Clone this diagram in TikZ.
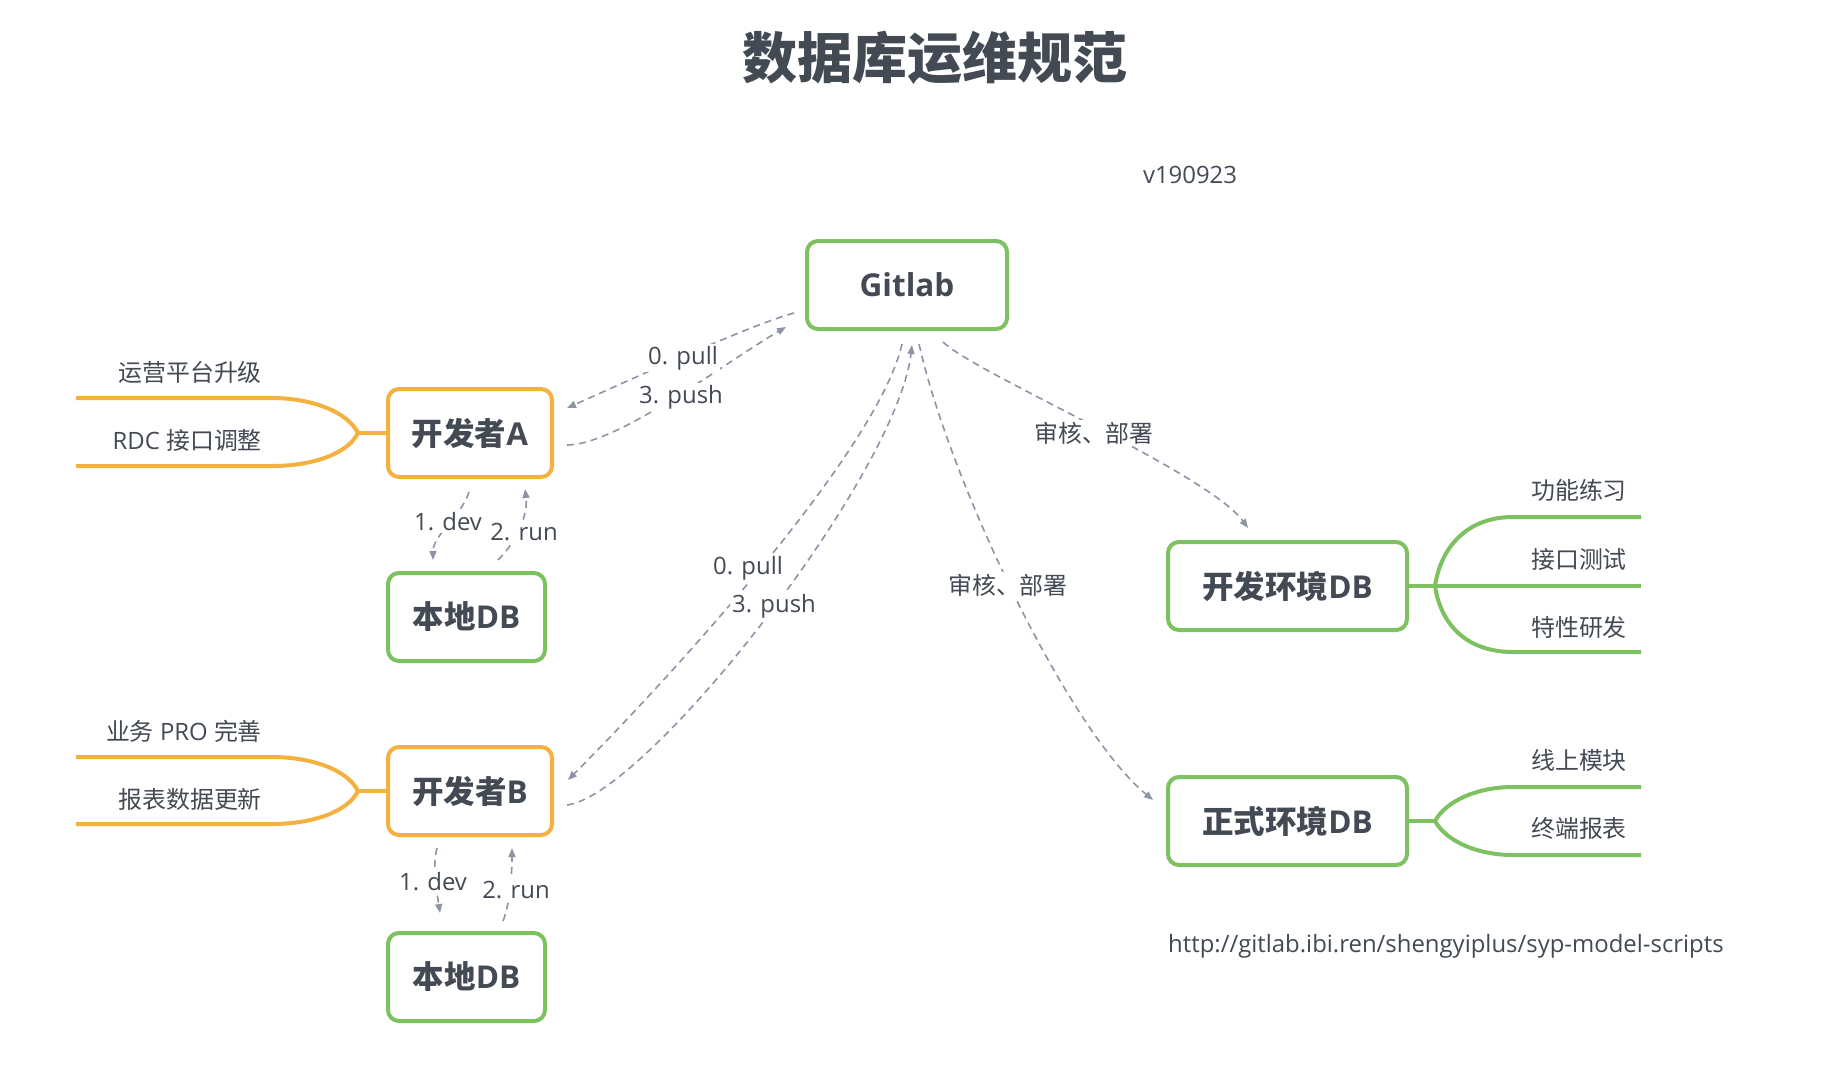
\documentclass[tikz,border=0pt]{standalone}
\usepackage{fontspec}
\setmainfont{Open Sans}
\newfontfamily\cjk{Noto Sans CJK SC}
\usetikzlibrary{arrows.meta}
\definecolor{txt}{HTML}{434A54}
\definecolor{orng}{HTML}{F5B13F}
\definecolor{grn}{HTML}{7DC160}
\definecolor{dsh}{HTML}{8E93A6}
\tikzset{
  box/.style={draw, line width=4pt, rounded corners=11pt, fill=white, minimum height=88pt, inner sep=0pt,
    font=\fontsize{31.5}{36}\selectfont\bfseries, text=txt},
  obox/.style={box, draw=orng},
  gbox/.style={box, draw=grn},
  lbl/.style={font=\fontsize{23.9}{28}\selectfont, text=txt, inner sep=1pt},
  cut/.style={lbl, fill=white, inner sep=2pt},
  conn/.style={draw=dsh, line width=1.6pt, dash pattern=on 7pt off 5pt, -{Triangle[length=9pt,width=7pt]}},
  branchO/.style={draw=orng, line width=4pt},
  branchG/.style={draw=grn, line width=4pt},
}
\begin{document}
\begin{tikzpicture}[x=1pt,y=-1pt]
\fill[white] (0,0) rectangle (1846,1090);
\useasboundingbox (0,0) rectangle (1846,1090);

% title and notes
\node[font=\cjk\bfseries\fontsize{55}{62}\selectfont, text=txt] (title) at (934.5,58) {数据库运维规范};
\node[lbl] (ver) at (1190,175) {v190923};
\node[lbl, anchor=west] (url) at (1167,946) {http://gitlab.ibi.ren/shengyiplus/syp-model-scripts};

% boxes
\node[gbox, minimum width=200pt] (gitlab) at (907,285) {Gitlab};
\node[obox, minimum width=164pt] (devA) at (470,433) {{\cjk 开发者}A};
\node[gbox, minimum width=157pt] (localA) at (466.5,617) {{\cjk 本地}DB};
\node[obox, minimum width=164pt] (devB) at (470,791) {{\cjk 开发者}B};
\node[gbox, minimum width=157pt] (localB) at (466.5,977) {{\cjk 本地}DB};
\node[gbox, minimum width=239pt] (devDB) at (1287.5,586) {{\cjk 开发环境}DB};
\node[gbox, minimum width=239pt] (prodDB) at (1287.5,821) {{\cjk 正式环境}DB};

% branch junctions
\coordinate (jA) at (358,433);
\coordinate (jB) at (358,791);
\coordinate (jD) at (1435,586);
\coordinate (jP) at (1435,821);

% left branches A
\draw[branchO] (devA.west) -- (jA);
\draw[branchO] (jA) .. controls +(-11,-22) and +(38,0) .. (272,398) -- (76,398);
\draw[branchO] (jA) .. controls +(-11,22) and +(38,0) .. (272,466) -- (76,466);
\node[lbl, anchor=east] (a1) at (263,372) {\cjk 运营平台升级};
\node[lbl, anchor=east] (a2) at (263,440) {RDC {\cjk 接口调整}};

% left branches B
\draw[branchO] (devB.west) -- (jB);
\draw[branchO] (jB) .. controls +(-11,-22) and +(38,0) .. (272,757) -- (76,757);
\draw[branchO] (jB) .. controls +(-11,22) and +(38,0) .. (272,824) -- (76,824);
\node[lbl, anchor=east] (b1) at (263,731) {{\cjk 业务} PRO {\cjk 完善}};
\node[lbl, anchor=east] (b2) at (263,799) {\cjk 报表数据更新};

% right branches dev DB
\draw[branchG] (devDB.east) -- (jD);
\draw[branchG] (jD) .. controls +(6,-40) and +(-45,0) .. (1513,517) -- (1641,517);
\draw[branchG] (jD) -- (1641,586);
\draw[branchG] (jD) .. controls +(6,40) and +(-45,0) .. (1513,652) -- (1641,652);
\node[lbl, anchor=west] (d1) at (1530,490) {\cjk 功能练习};
\node[lbl, anchor=west] (d2) at (1530,559) {\cjk 接口测试};
\node[lbl, anchor=west] (d3) at (1530,627) {\cjk 特性研发};

% right branches prod DB
\draw[branchG] (prodDB.east) -- (jP);
\draw[branchG] (jP) .. controls +(11,-20) and +(-36,0) .. (1513,787) -- (1641,787);
\draw[branchG] (jP) .. controls +(11,20) and +(-36,0) .. (1513,855) -- (1641,855);
\node[lbl, anchor=west] (p1) at (1530,760) {\cjk 线上模块};
\node[lbl, anchor=west] (p2) at (1530,828) {\cjk 终端报表};

% connectors
\draw[conn] ([shift={(-11,28)}]gitlab.west) .. controls +(-45,12) and +(45,-20) .. ([shift={(13,-25)}]devA.east);
\draw[conn] ([shift={(13,12)}]devA.east) .. controls +(50,0) and +(-60,35) .. ([shift={(-19,42)}]gitlab.west);
\draw[conn] ([shift={(-1,13)}]devA.south) .. controls +(-8,25) and +(0,-25) .. ([shift={(-33.5,-11)}]localA.north);
\draw[conn] ([shift={(31.5,-11)}]localA.north) .. controls +(20,-20) and +(3,25) .. ([shift={(55,10)}]devA.south);
\draw[conn] ([shift={(-33,11)}]devB.south) .. controls +(-5,20) and +(-3,-20) .. ([shift={(-26.5,-18)}]localB.north);
\draw[conn] ([shift={(36.5,-10)}]localB.north) .. controls +(8,-20) and +(0,20) .. ([shift={(42,11)}]devB.south);
\draw[conn] ([shift={(-5,13)}]gitlab.south) .. controls +(-25,110) and +(90,-90) .. ([shift={(14,-11)}]devB.east);
\draw[conn] ([shift={(13,14)}]devB.east) .. controls +(80,-10) and +(-15,130) .. ([shift={(5,14)}]gitlab.south);
\draw[conn] ([shift={(12,13)}]gitlab.south) .. controls +(31,138) and +(-85,-70) .. ([shift={(-13,-21)}]prodDB.west);
\draw[conn] ([shift={(36,11)}]gitlab.south) .. controls +(30,30) and +(-40,-55) .. ([shift={(-39.5,-12)}]devDB.north);

% connector labels
\node[cut] (l1) at (683,358) {0. pull};
\node[cut] (l2) at (681,397) {3. push};
\node[cut] (l3) at (448,522) {1. dev};
\node[cut] (l4) at (524,532) {2. run};
\node[cut] (l5) at (433,882) {1. dev};
\node[cut] (l6) at (516,890) {2. run};
\node[cut] (l7) at (748,568) {0. pull};
\node[cut] (l8) at (774,606) {3. push};
\node[cut] (l9) at (1008,585) {\cjk 审核、部署};
\node[cut] (l10) at (1094,433) {\cjk 审核、部署};
\end{tikzpicture}
\end{document}
